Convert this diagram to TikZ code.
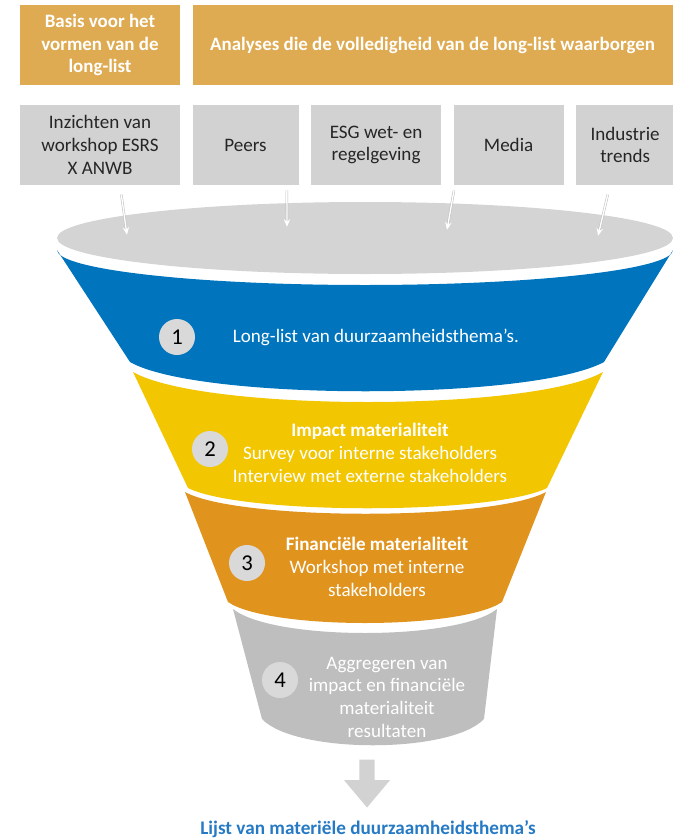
\documentclass[tikz,border=0pt]{standalone}
\usepackage{fontspec}
\setmainfont{Carlito}
\usetikzlibrary{arrows.meta,shapes,positioning}
\definecolor{headorange}{RGB}{222,170,82}
\definecolor{boxgray}{RGB}{210,210,210}
\definecolor{mouthgray}{RGB}{212,212,212}
\definecolor{bandblue}{RGB}{0,116,189}
\definecolor{bandyellow}{RGB}{242,198,0}
\definecolor{bandorange}{RGB}{224,148,30}
\definecolor{bandgray}{RGB}{190,190,190}
\definecolor{numgray}{RGB}{217,217,217}
\definecolor{resultblue}{RGB}{38,122,196}

\begin{document}
\begin{tikzpicture}[x=0.75pt,y=-0.75pt]
\tikzset{every node/.style={align=center, inner sep=2pt, font=\fontsize{14.3}{17}\selectfont},
head/.style={fill=headorange, text=white, minimum height=60pt,
font=\bfseries\fontsize{14.2}{17}\selectfont},
source/.style={fill=boxgray, text=black!85, minimum height=60pt},
num/.style={circle, fill=numgray, minimum size=27pt, inner sep=0pt,
font=\fontsize{17}{17}\selectfont},
stagetext/.style={text=white},
feed/.style={draw=white, line width=1pt, -{Stealth[length=6pt,width=5pt]},
preaction={draw=black!25, line width=1.8pt}}}
\useasboundingbox (0,0) rectangle (672,839);

\node[head, minimum width=120pt] (basis-head) at (100,45) {Basis voor het\\vormen van de\\long-list};
\node[head, minimum width=360pt, right=9pt of basis-head] (analyses-head) {Analyses die de volledigheid van de long-list waarborgen};

\node[source, minimum width=120pt] (insight-box) at (100,145) {Inzichten van\\workshop ESRS\\X ANWB};
\node[source, minimum width=79.5pt, right=9pt of insight-box] (peers-box) {Peers};
\node[source, minimum width=97.5pt, right=9pt of peers-box] (esg-box) {ESG wet- en\\regelgeving};
\node[source, minimum width=82.5pt, right=9pt of esg-box] (media-box) {Media};
\node[source, minimum width=73.5pt, right=9pt of media-box] (trends-box) {Industrie\\trends};

\fill[mouthgray] (365,238) ellipse[x radius=308, y radius=36];
\fill[bandblue] (57,250) arc[start angle=180, end angle=0, x radius=308, y radius=35]
  -- (604,362) .. controls (532,401) and (198,401) .. (130,362) -- cycle;
\fill[bandyellow] (133,372) .. controls (203,412) and (533,412) .. (603,372)
  -- (547,488) .. controls (493,515) and (242,515) .. (188,488) -- cycle;
\fill[bandorange] (185,492) .. controls (238,521) and (493,521) .. (546,492)
  -- (502,602) .. controls (461,630) and (269,630) .. (228,602) -- cycle;
\fill[bandgray] (233,609) .. controls (273,641) and (457,641) .. (497,609)
  -- (484,719) .. controls (451,754) and (295,754) .. (262,719) -- cycle;

\coordinate (in-one) at (127,235);
\coordinate (in-two) at (287,227);
\coordinate (in-three) at (447,230);
\coordinate (in-four) at (598,236);
\draw[feed] ([xshift=16pt,yshift=-7pt]insight-box.south) -- (in-one);
\draw[feed] ([xshift=31pt,yshift=-4pt]peers-box.south) -- (in-two);
\draw[feed] ([xshift=-41pt,yshift=-4pt]media-box.south) -- (in-three);
\draw[feed] ([xshift=-13pt,yshift=-7pt]trends-box.south) -- (in-four);

\node[num] (num-one) at (177,337) {1};
\node[stagetext, right=26pt of num-one] (stage-one) {Long-list van duurzaamheidsthema’s.};
\node[num] (num-two) at (210,449) {2};
\node[stagetext] (stage-two) at (370,453) {\textbf{Impact materialiteit}\\Survey voor interne stakeholders\\Interview met externe stakeholders};
\node[num] (num-three) at (247,563) {3};
\node[stagetext] (stage-three) at (377,567) {\textbf{Financiële materialiteit}\\Workshop met interne\\stakeholders};
\node[num] (num-four) at (280,680) {4};
\node[stagetext] (stage-four) at (387,697) {Aggregeren van\\impact en financiële\\materialiteit\\resultaten};

\node[single arrow, fill=boxgray, shape border rotate=270, inner sep=5.5pt,
minimum height=36pt, single arrow head extend=11.5pt, single arrow tip angle=80] (down-arrow) at (367,779) {};
\node[text=resultblue, font=\bfseries\fontsize{14.4}{17}\selectfont] (result) at (368,829) {Lijst van materiële duurzaamheidsthema’s};
\end{tikzpicture}
\end{document}
